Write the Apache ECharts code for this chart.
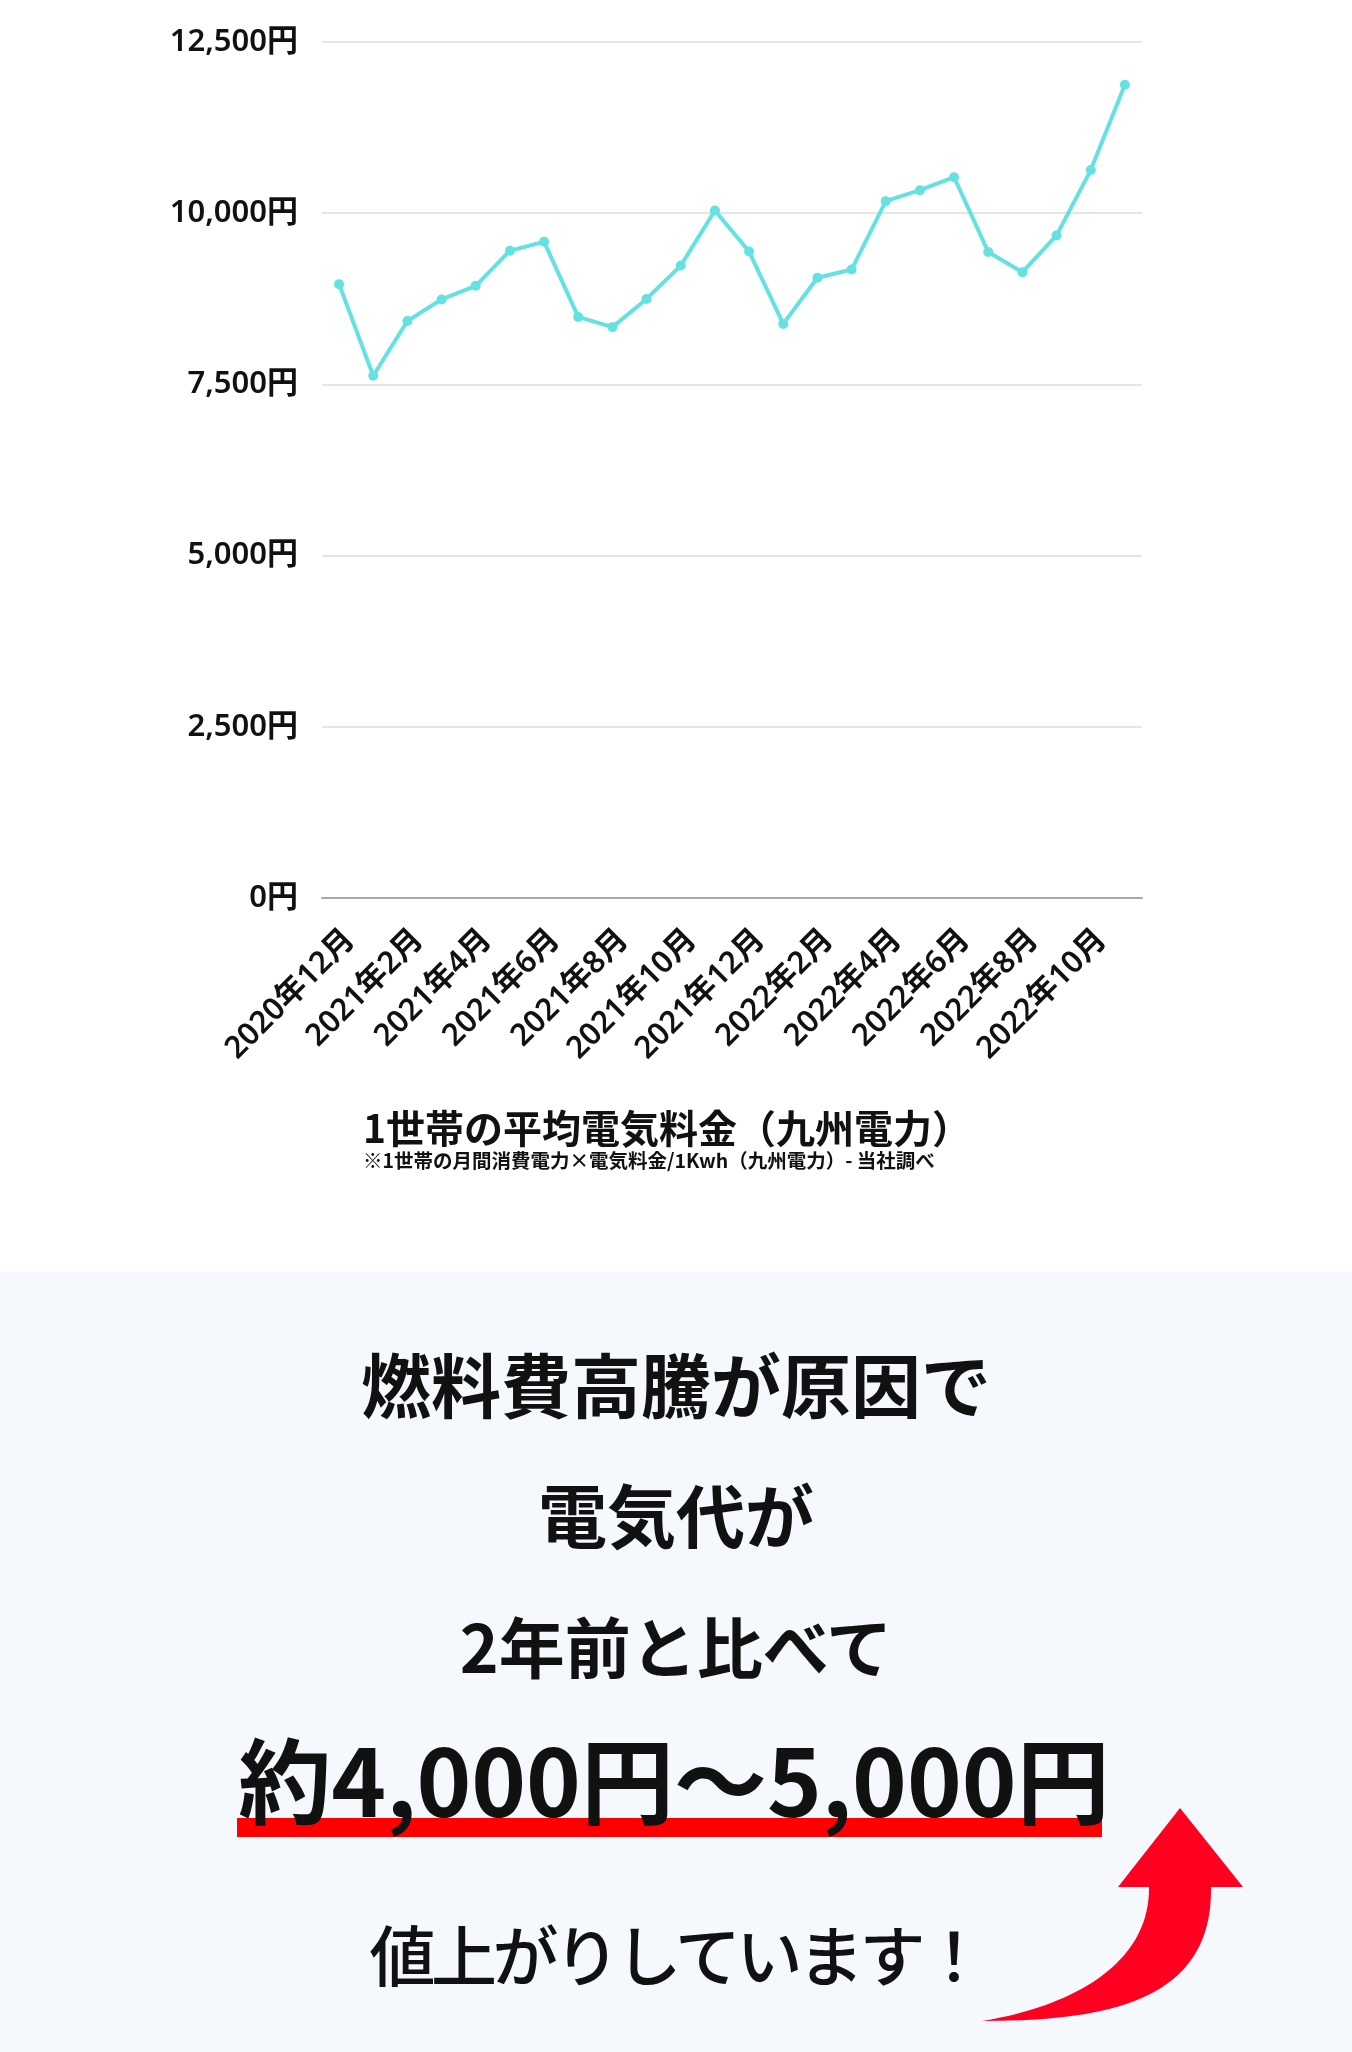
<!DOCTYPE html>
<html>
<head>
<meta charset="utf-8">
<script src="https://cdn.jsdelivr.net/npm/echarts@6/dist/echarts.min.js"></script>
<style>
  html, body { margin: 0; padding: 0; background: #ffffff; }
  body { width: 1352px; height: 2052px; overflow: hidden; font-family: 'Noto Sans CJK JP', 'Noto Sans', sans-serif; }
  #chart { width: 1352px; height: 1272px; background: #ffffff; }
  #banner { position: relative; width: 1352px; height: 780px; background: #f5f8fd; }
  .line { position: absolute; left: 0; width: 1352px; text-align: center; color: #111; font-weight: 700; white-space: nowrap; }
  #underline { position: absolute; left: 237px; top: 546px; width: 865px; height: 19px; background: #ff0000; }
  #arrow { position: absolute; left: 0; top: 0; }
</style>
</head>
<body>
<div id="chart"></div>
<div id="banner">
  <div id="underline"></div>
  <div class="line" id="l1" style="top:76px;font-size:70px;line-height:70px;">燃料費高騰が原因で</div>
  <div class="line" id="l2" style="top:207px;font-size:69px;line-height:69px;">電気代が</div>
  <div class="line" id="l3" style="top:339px;font-size:66px;line-height:66px;">2年前と比べて</div>
  <div class="line" id="l4" style="top:458px;font-size:93px;line-height:93px;left:-2px;">約4,000円～5,000円</div>
  <div class="line" id="l5" style="top:647px;font-size:66px;line-height:66px;font-weight:500;letter-spacing:-4.5px;">値上がりしています！</div>
  <svg id="arrow" width="1352" height="780" viewBox="0 1272 1352 780">
    <path d="M982,2021 C1080,2005 1150,1960 1149,1887 L1118,1887 L1180,1808 L1243,1887 L1211,1887 C1213,2000 1110,2021 982,2021 Z" fill="#ff0020"/>
  </svg>
</div>
<script>
const months = ['2020年12月','2021年1月','2021年2月','2021年3月','2021年4月','2021年5月','2021年6月','2021年7月','2021年8月','2021年9月','2021年10月','2021年11月','2021年12月','2022年1月','2022年2月','2022年3月','2022年4月','2022年5月','2022年6月','2022年7月','2022年8月','2022年9月','2022年10月','2022年11月'];
const charges = [8964, 7626, 8426, 8741, 8940, 9452, 9582, 8485, 8336, 8748, 9235, 10040, 9440, 8383, 9058, 9177, 10176, 10336, 10526, 9433, 9138, 9676, 10630, 11875];
const yTicks = [0, 2500, 5000, 7500, 10000, 12500];
const titleText = '1世帯の平均電気料金（九州電力）';
const noteText = '※1世帯の月間消費電力×電気料金/1Kwh（九州電力）- 当社調べ';

const chart = echarts.init(document.getElementById('chart'));
chart.setOption({
  backgroundColor: '#ffffff',
  animation: false,
  title: {
    text: titleText,
    subtext: noteText,
    left: 358,
    top: 1104,
    itemGap: 3,
    textStyle: { fontFamily: "'Noto Sans CJK JP'", fontSize: 39, fontWeight: 700, color: '#111' },
    subtextStyle: { fontFamily: "'Noto Sans CJK JP'", fontSize: 19.5, fontWeight: 700, color: '#111' }
  },
  grid: { left: 322, right: 210, top: 42, height: 856, containLabel: false },
  xAxis: {
    type: 'category',
    data: months,
    boundaryGap: true,
    axisLine: { show: true, lineStyle: { color: '#a8a8a8', width: 2 } },
    axisTick: { show: false },
    axisLabel: {
      interval: 1,
      rotate: 45,
      margin: 26,
      verticalAlign: 'top',
      fontFamily: "'Noto Sans', 'Noto Sans CJK JP'",
      fontSize: 31,
      fontWeight: 600,
      color: '#111'
    },
    splitLine: { show: false }
  },
  yAxis: {
    type: 'value',
    min: yTicks[0],
    max: yTicks[yTicks.length - 1],
    interval: 2500,
    axisLine: { show: false },
    axisTick: { show: false },
    axisLabel: {
      margin: 24,
      fontFamily: "'Noto Sans', 'Noto Sans CJK JP'",
      fontSize: 31,
      fontWeight: 600,
      color: '#111',
      formatter: v => v.toLocaleString('en-US') + '円'
    },
    splitLine: { show: true, lineStyle: { color: '#dcdcdc', width: 1.5 } }
  },
  series: [{
    type: 'line',
    data: charges,
    symbol: 'circle',
    symbolSize: 10,
    lineStyle: { color: '#64e2e2', width: 4 },
    itemStyle: { color: '#64e2e2' }
  }]
});
</script>
</body>
</html>
